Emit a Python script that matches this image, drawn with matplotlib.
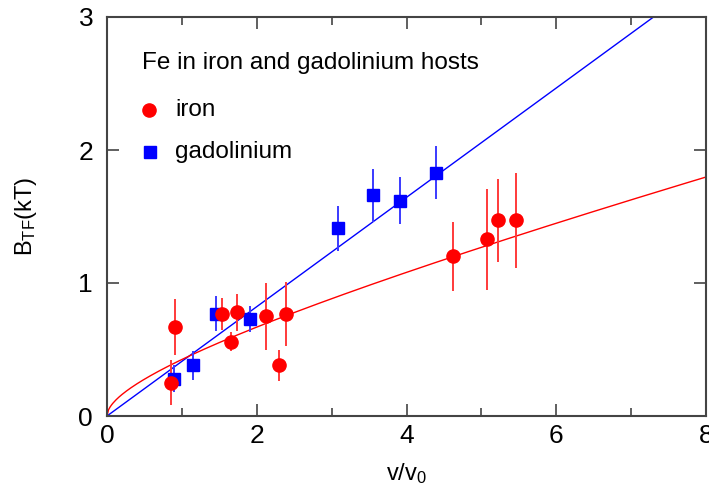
import numpy as np
import matplotlib
matplotlib.use("Agg")
import matplotlib.pyplot as plt
from matplotlib.ticker import MultipleLocator

plt.rcParams['font.family'] = ['Liberation Sans', 'DejaVu Sans']
plt.rcParams['mathtext.fontset'] = 'custom'
plt.rcParams['mathtext.rm'] = 'Liberation Sans'
plt.rcParams['mathtext.it'] = 'Liberation Sans'

# iron host data
iron_x = [0.86, 0.91, 1.53, 1.65, 1.74, 2.13, 2.30, 2.39, 4.62, 5.08, 5.22, 5.46]
iron_y = [0.25, 0.67, 0.77, 0.56, 0.78, 0.75, 0.38, 0.77, 1.20, 1.33, 1.47, 1.47]
iron_err = [0.17, 0.21, 0.12, 0.07, 0.14, 0.25, 0.12, 0.24, 0.26, 0.38, 0.31, 0.36]

# gadolinium host data
gd_x = [0.90, 1.15, 1.45, 1.91, 3.09, 3.55, 3.91, 4.40]
gd_y = [0.28, 0.38, 0.77, 0.73, 1.41, 1.66, 1.62, 1.83]
gd_err = [0.10, 0.11, 0.13, 0.10, 0.17, 0.20, 0.18, 0.20]

# fit parameters
gd_slope = 0.411
iron_a, iron_b = 0.31, 0.115   # y = a*sqrt(x) + b*x

title_text = "Fe in iron and gadolinium hosts"
labels = ["iron", "gadolinium"]

fig = plt.figure(figsize=(7.09, 4.87), dpi=100)
ax = fig.add_axes([107/709, 1-416/487, (706-107)/709, (416-17)/487])

xf = np.linspace(0, 8, 400)
ax.plot(xf, gd_slope*xf, color='#0000ff', lw=1.0, zorder=2)
ax.plot(xf, iron_a*np.sqrt(xf) + iron_b*xf, color='#ff0000', lw=1.0, zorder=2)

ax.errorbar(gd_x, gd_y, yerr=gd_err, fmt='none', ecolor='#3a3aff', elinewidth=1.4, zorder=3)
ax.errorbar(iron_x, iron_y, yerr=iron_err, fmt='none', ecolor='#ff3a3a', elinewidth=1.4, zorder=3)
ax.plot(gd_x, gd_y, 's', color='#0000ff', ms=8.3, mec='#0000ff', zorder=4)
ax.plot(iron_x, iron_y, 'o', color='#ff0000', ms=9.5, mec='#ff0000', zorder=5)

ax.set_xlim(0, 8)
ax.set_ylim(0, 3)
ax.xaxis.set_major_locator(MultipleLocator(2))
ax.xaxis.set_minor_locator(MultipleLocator(1))
ax.yaxis.set_major_locator(MultipleLocator(1))
ax.tick_params(which='both', direction='in', top=True, right=True, color='#444444', width=1.2)
ax.tick_params(which='major', length=8.5, labelsize=19, pad=6)
ax.tick_params(axis='y', which='major', pad=10)
ax.tick_params(which='minor', length=5.5)
for s in ax.spines.values():
    s.set_color('#444444')
    s.set_linewidth(1.5)

ax.set_xlabel(r"v/v$_0$", fontsize=17, labelpad=9)
ax.set_ylabel(r"B$_{\mathrm{TF}}$(kT)", fontsize=17, labelpad=28)

# legend drawn manually
ax.text(141.7/709, 1-69/487, title_text, transform=fig.transFigure, fontsize=17.5,
        ha='left', va='baseline')
ax.plot([149/709], [1-110/487], 'o', color='#ff0000', ms=9.5, transform=fig.transFigure, clip_on=False)
ax.plot([150/709], [1-152/487], 's', color='#0000ff', ms=8.3, transform=fig.transFigure, clip_on=False)
ax.text(175/709, 1-110/487, labels[0], transform=fig.transFigure, fontsize=17.5, ha='left', va='center')
ax.text(175/709, 1-152/487, labels[1], transform=fig.transFigure, fontsize=17.5, ha='left', va='center')

fig.savefig("out.png", dpi=100)
